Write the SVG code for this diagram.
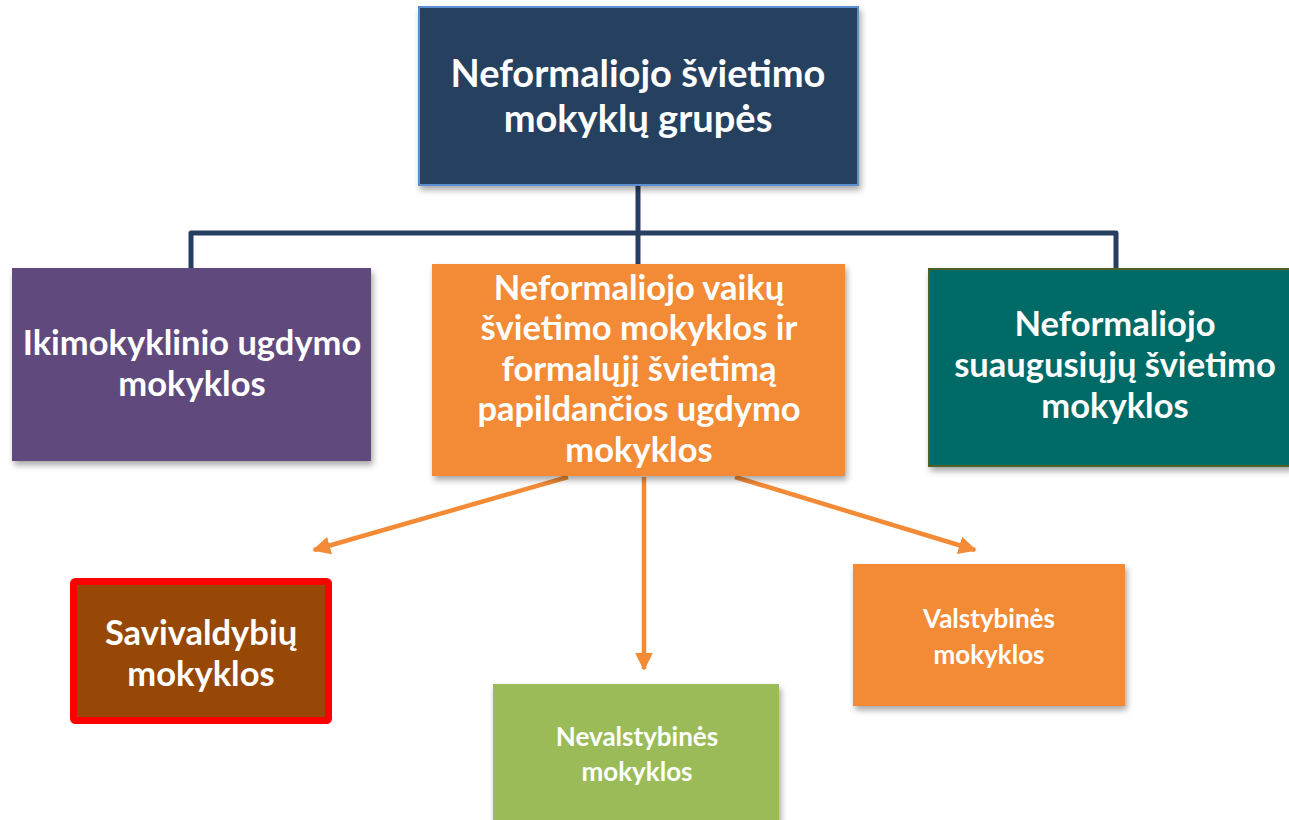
<svg xmlns="http://www.w3.org/2000/svg" width="1289" height="820" viewBox="0 0 1289 820">
<style>
.t{font-family:Lato,"Open Sans","Liberation Sans",sans-serif;font-weight:bold;fill:#fff;text-anchor:middle}
.big{font-size:38px}
.mid{font-size:34.5px}
.sm{font-size:26px}
.nav{fill:none;stroke:#263F61;stroke-width:5;stroke-linejoin:round;stroke-linecap:butt}
.ar{fill:none;stroke:#F38A36;stroke-width:4.5}
</style>
<defs>
<filter id="sh" x="-10%" y="-10%" width="130%" height="130%">
<feDropShadow dx="2" dy="4" stdDeviation="3" flood-color="#000" flood-opacity="0.35"/>
</filter>
<marker id="ah" viewBox="0 0 10 10" refX="9" refY="5" markerWidth="4" markerHeight="4" orient="auto" markerUnits="strokeWidth">
<path d="M0,0 L10,5 L0,10 z" fill="#F38A36"/>
</marker>
</defs>
<rect width="1289" height="820" fill="#fff"/>
<g id="connectors">
<path class="nav" d="M638,185 V233"/>
<path class="nav" d="M191,268 V233 H1116 V270"/>
<path class="nav" d="M638,233 V265"/>
<path class="ar" d="M568,477 L314,550" marker-end="url(#ah)"/>
<path class="ar" d="M644,477 V669" marker-end="url(#ah)"/>
<path class="ar" d="M735,477 L975,550" marker-end="url(#ah)"/>
</g>
<g id="top">
<rect x="419" y="7" width="439" height="178" fill="#264061" stroke="#5B8FD0" stroke-width="2" filter="url(#sh)"/>
<text class="t big" x="638" y="87">Neformaliojo švietimo</text>
<text class="t big" x="638" y="132">mokyklų grupės</text>
</g>
<g id="ikimokyklinio">
<rect x="12" y="268" width="359" height="193" fill="#604A7B" filter="url(#sh)"/>
<text class="t mid" x="192" y="355">Ikimokyklinio ugdymo</text>
<text class="t mid" x="192" y="396">mokyklos</text>
</g>
<g id="vaiku">
<rect x="432" y="264" width="413" height="212" fill="#F38A36" filter="url(#sh)"/>
<text class="t mid" x="639" y="300">Neformaliojo vaikų</text>
<text class="t mid" x="639" y="340">švietimo mokyklos ir</text>
<text class="t mid" x="639" y="381">formalųjį švietimą</text>
<text class="t mid" x="639" y="421">papildančios ugdymo</text>
<text class="t mid" x="639" y="462">mokyklos</text>
</g>
<g id="suaugusiuju">
<rect x="929" y="269" width="362" height="197" fill="#006A66" stroke="#4F6228" stroke-width="2" filter="url(#sh)"/>
<text class="t mid" x="1115" y="336">Neformaliojo</text>
<text class="t mid" x="1115" y="377">suaugusiųjų švietimo</text>
<text class="t mid" x="1115" y="418">mokyklos</text>
</g>
<g id="savivaldybiu">
<rect x="73.5" y="581.5" width="255" height="139" rx="2" fill="#974706" stroke="#FF0000" stroke-width="7"/>
<text class="t mid" x="201" y="645">Savivaldybių</text>
<text class="t mid" x="201" y="686">mokyklos</text>
</g>
<g id="nevalstybines">
<rect x="493" y="684" width="286" height="150" fill="#9BBB59" filter="url(#sh)"/>
<text class="t sm" x="637" y="746">Nevalstybinės</text>
<text class="t sm" x="637" y="781">mokyklos</text>
</g>
<g id="valstybines">
<rect x="853" y="564" width="272" height="142" fill="#F38A36" filter="url(#sh)"/>
<text class="t sm" x="989" y="628">Valstybinės</text>
<text class="t sm" x="989" y="664">mokyklos</text>
</g>
</svg>
